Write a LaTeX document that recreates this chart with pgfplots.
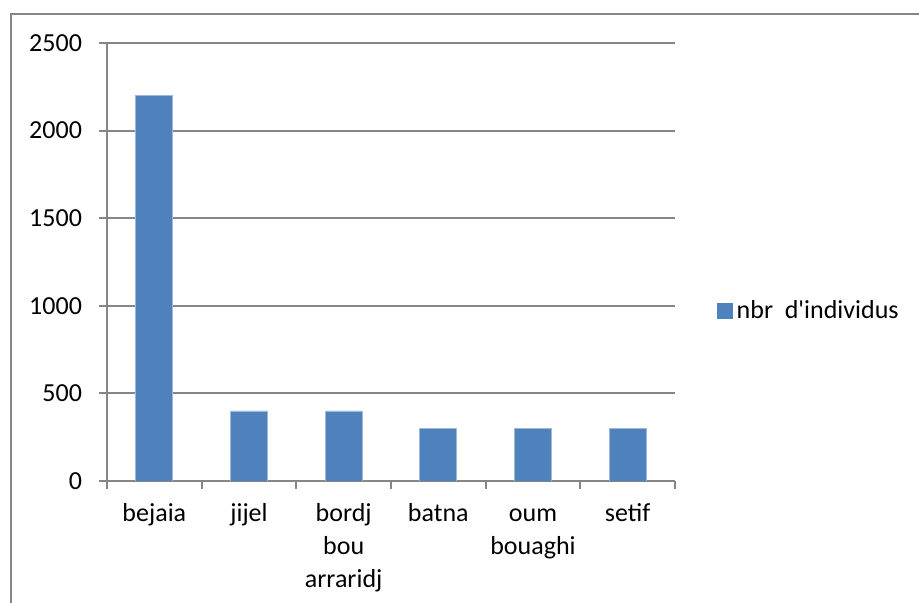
\documentclass[border=0pt]{standalone}
\usepackage{pgfplots}
\pgfplotsset{compat=1.18}
\usepackage{fontspec}
\setmainfont{Carlito}

\definecolor{barblue}{HTML}{4F81BD}
\definecolor{axisgray}{HTML}{868686}

\begin{document}
\fontsize{13pt}{16.5pt}\selectfont
\begin{tikzpicture}
\useasboundingbox (0,0) rectangle (459.5pt,301.5pt);
% outer chart frame
\draw[line width=1pt, axisgray] (5.5pt,-2pt) -- (5.5pt,294.5pt) -- (462pt,294.5pt);
\begin{axis}[
  at={(53.5pt,61pt)}, anchor=south west,
  scale only axis, width=284pt, height=219pt,
  ymin=0, ymax=2500, ytick={0,500,...,2500},
  xmin=-0.5, xmax=5.5,
  xtick={0,1,2,3,4,5},
  xticklabels={\strut bejaia, \strut jijel, {\strut bordj\\bou\\arraridj}, \strut batna, {\strut oum\\bouaghi}, \strut setif},
  minor xtick={-0.5,0.5,1.5,2.5,3.5,4.5,5.5},
  major x tick style={draw=none},
  axis x line*=bottom, axis y line*=left,
  axis line style={axisgray, line width=1pt, -},
  ymajorgrids, grid style={axisgray, line width=1pt},
  tick align=outside,
  tick style={axisgray, line width=1pt},
  major tick length=4pt, minor tick length=4pt,
  xticklabel style={align=center, anchor=north, yshift=0pt, font=\fontsize{13pt}{16.5pt}\selectfont},
  yticklabel style={anchor=east, xshift=-4pt, font=\fontsize{13pt}{16.5pt}\selectfont},
  /pgf/number format/assume math mode=true,
  /pgf/number format/1000 sep={},
  ybar, bar width=18.5pt,
  legend style={at={(1,0.388)}, anchor=west, xshift=21pt, draw=none, fill=none,
    inner sep=0pt, font=\fontsize{13pt}{16.5pt}\selectfont,
    nodes={inner sep=1.75pt}},
  legend cell align=left,
  legend image code/.code={\fill[barblue] (0pt,-3.75pt) rectangle (7.5pt,3.75pt);},
]
\addplot[fill=barblue, draw=barblue!55!white, line width=0.4pt]
  coordinates {(0,2200) (1,400) (2,400) (3,300) (4,300) (5,300)};
\addlegendentry{nbr\ \ d\textquotesingle individus}
\end{axis}
\end{tikzpicture}
\end{document}
